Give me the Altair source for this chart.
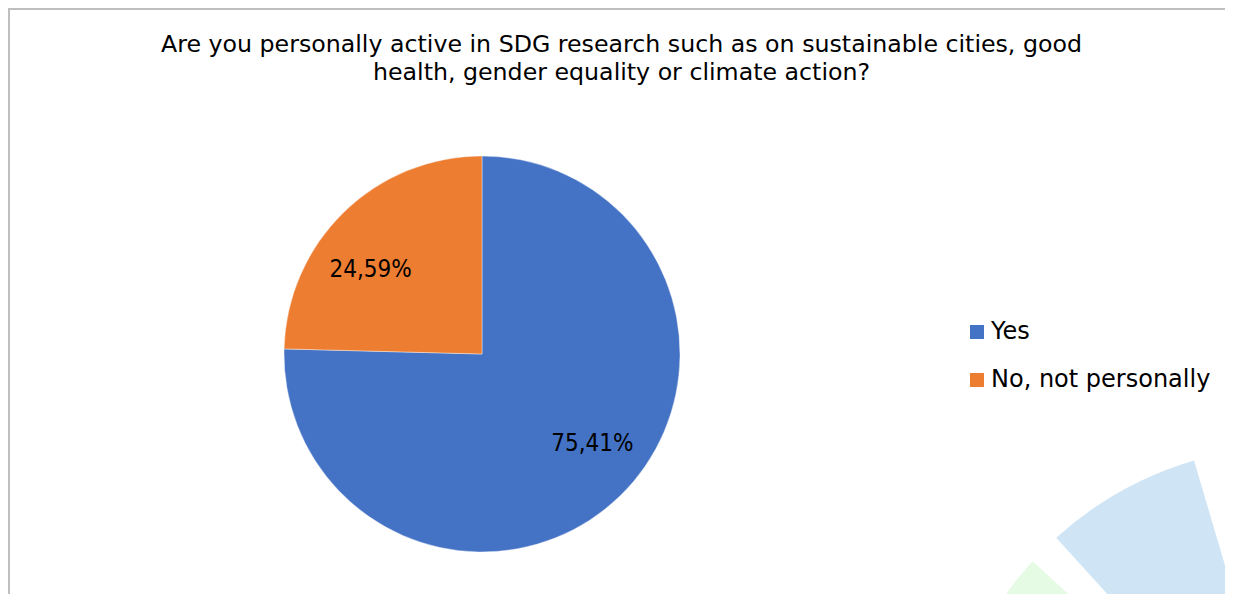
import altair as alt
import pandas as pd

# ---- data ----
categories = ["Yes", "No, not personally"]
shares = [75.41, 24.59]
labels = ["75,41%", "24,59%"]
colors = ["#4472C4", "#ED7D31"]

title_lines = [
    "Are you personally active in SDG research such as on sustainable cities, good",
    "health, gender equality or climate action?",
]

# faint decorative wheel segments in the background (degrees)
deco_start = [286.0, 317.8, 349.0]
deco_end = [312.4, 343.6, 375.0]
deco_colors = ["#E6FBE3", "#CFE5F5", "#D4DDEE"]

# ---- layout ----
W, H = 1217, 586
CX, CY, R = 474, 346, 198
FONT = "DejaVu Sans"
LABEL_FONT = "DejaVu Sans Condensed"

pie_df = pd.DataFrame({"category": categories, "share": shares,
                       "label": labels, "order": list(range(len(categories)))})
deco_df = pd.DataFrame({"start": deco_start, "end": deco_end, "color": deco_colors})
one = pd.DataFrame({"k": [0]})

deco = alt.Chart(deco_df).transform_calculate(
    t1="datum.start * PI / 180", t2="datum.end * PI / 180"
).mark_arc(outerRadius=354, innerRadius=0).encode(
    theta=alt.Theta("t1:Q", scale=None),
    theta2="t2:Q",
    color=alt.Color("color:N", scale=None, legend=None),
    x=alt.value(1286), y=alt.value(792),
)

pie = alt.Chart(pie_df).mark_arc(outerRadius=R, stroke="white", strokeWidth=0.4).encode(
    theta=alt.Theta("share:Q", stack=True),
    color=alt.Color(
        "category:N",
        scale=alt.Scale(domain=categories, range=colors),
        sort=categories,
        legend=alt.Legend(
            title=None, orient="none", legendX=957, legendY=312,
            symbolType="square", symbolSize=196, symbolStrokeWidth=0,
            labelFontSize=24, labelFont=FONT, labelColor="black",
            labelOffset=2, rowPadding=24, padding=0, labelLimit=400,
        ),
    ),
    order=alt.Order("order:Q"),
    x=alt.value(CX), y=alt.value(CY),
)

txt_base = alt.Chart(pie_df).transform_joinaggregate(
    total="sum(share)"
).transform_window(
    cum="sum(share)", sort=[alt.SortField("order")]
).transform_calculate(
    mid="(datum.cum - datum.share / 2) / datum.total * 2 * PI"
)

def label_layer(idx, dx, dy):
    return txt_base.transform_filter(alt.datum.order == idx).mark_text(
        radius=141, dx=dx, dy=dy, fontSize=24, font=LABEL_FONT, color="black"
    ).encode(
        theta=alt.Theta("mid:Q", scale=None),
        text="label:N",
        x=alt.value(CX), y=alt.value(CY),
    )

yes_lbl = label_layer(0, 12, -11)
no_lbl = label_layer(1, -13, 17)

border_left = alt.Chart(one).mark_rule(color="#BFBFBF", strokeWidth=2).encode(
    x=alt.value(1), y=alt.value(0), y2=alt.value(H)
)
border_top = alt.Chart(one).mark_rule(color="#BFBFBF", strokeWidth=2).encode(
    x=alt.value(0), x2=alt.value(W), y=alt.value(1)
)

chart = alt.layer(deco, border_left, border_top, pie, yes_lbl, no_lbl).resolve_scale(
    theta="independent", color="independent"
).properties(
    width=W, height=H,
    autosize=alt.AutoSizeParams(type="none"),
    padding=0,
    title=alt.TitleParams(
        text=title_lines, anchor="middle", font=FONT, fontSize=23.7,
        fontWeight="normal", color="black", lineHeight=28.5, offset=0,
        dy=78, dx=5,
    ),
).configure_view(stroke=None).configure(background="white")

chart.save("out.html", embed_options={"renderer": "svg", "actions": False})
